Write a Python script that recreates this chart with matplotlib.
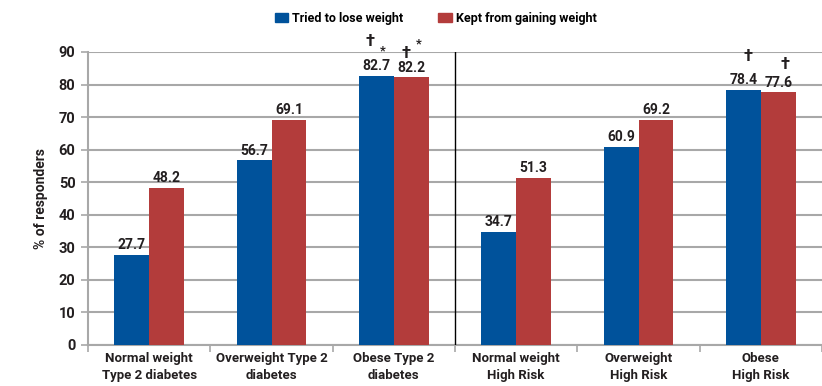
import matplotlib
matplotlib.use("Agg")
import matplotlib.pyplot as plt
import numpy as np
from matplotlib.patches import Patch

categories = ["Normal weight\nType 2 diabetes", "Overweight Type 2\ndiabetes", "Obese Type 2\ndiabetes",
              "Normal weight\nHigh Risk", "Overweight\nHigh Risk", "Obese\nHigh Risk"]
series_names = ["Tried to lose weight", "Kept from gaining weight"]
tried = [27.7, 56.7, 82.7, 34.7, 60.9, 78.4]
kept = [48.2, 69.1, 82.2, 51.3, 69.2, 77.6]
yticks = [0, 10, 20, 30, 40, 50, 60, 70, 80, 90]
# significance marks: (category index, series index, symbol)
marks = [(2, 0, "†"), (2, 0, "*"), (2, 1, "†"), (2, 1, "*"), (5, 0, "†"), (5, 1, "†")]
mark_offsets = [(-4.5, 24.5), (4.5, 18), (-3.5, 17), (5, 24), (3.5, 24), (5, 20)]

plt.rcParams['font.family'] = ['Roboto', 'DejaVu Sans']
blue = "#00529B"
red = "#B33C3B"
grid_c = "#A8A8A8"
txt_c = "#231F20"

fig = plt.figure(figsize=(8.22, 3.86), dpi=100)
ax = fig.add_axes([88/822, 41/386, 1 - 88/822, (345 - 52)/386])

x = np.arange(len(categories))
w = 0.285
vals = [tried, kept]
colors = [blue, red]
for s in range(2):
    pos = x + (s - 0.5) * w
    ax.bar(pos, vals[s], width=w, color=colors[s], zorder=3)
    for xi, v in zip(pos, vals[s]):
        ax.annotate(f"{v:.1f}", (xi, v), xytext=(0, 2), textcoords="offset points",
                    ha="center", va="bottom", fontsize=10, fontweight="bold", color=txt_c, zorder=4)

for (ci, si, sym), (dx, dy) in zip(marks, mark_offsets):
    xi = x[ci] + (si - 0.5) * w
    v = vals[si][ci]
    fs = 12 if sym == "†" else 9
    ax.annotate(sym, (xi, v), xytext=(dx, dy), textcoords="offset points",
                ha="center", va="center", fontsize=fs, fontweight="bold", color=txt_c,
                annotation_clip=False)

ax.set_ylim(0, 90)
ax.set_xlim(-0.5, (822 - 88) / 124 - 0.5)
ax.set_yticks(yticks)
ax.set_yticklabels([str(t) for t in yticks], fontsize=10.5, fontweight="bold", color=txt_c)
ax.yaxis.grid(True, color=grid_c, linewidth=1.5, zorder=0)
ax.set_axisbelow(True)

ax.set_xticks(x)
ax.set_xticklabels(categories, fontsize=9.5, fontweight="bold", color=txt_c, linespacing=1.4)
ax.tick_params(axis="x", which="major", length=0, pad=5)
ax.set_xticks(np.arange(-0.5, len(categories)), minor=True)
ax.tick_params(axis="x", which="minor", length=5, color=grid_c, width=1.2)
ax.tick_params(axis="y", length=5, color=grid_c, width=1.2, pad=4)

for sp in ["top", "right"]:
    ax.spines[sp].set_visible(False)
ax.spines["left"].set_color(grid_c)
ax.spines["left"].set_linewidth(1.5)
ax.spines["bottom"].set_color(grid_c)
ax.spines["bottom"].set_linewidth(1.5)

ax.axvline(2.5, color="black", linewidth=1, zorder=4)

ax.set_ylabel("% of responders", fontsize=10, fontweight="bold", color=txt_c, labelpad=8)

handles = [Patch(color=c) for c in colors]
fig.legend(handles, series_names, loc="center", bbox_to_anchor=(0.53, 0.953), ncol=2,
           frameon=False, handlelength=1.1, handleheight=0.7, handletextpad=0.3,
           columnspacing=2.8, prop={"size": 9, "weight": "bold"})

fig.savefig("out.png", dpi=100)
